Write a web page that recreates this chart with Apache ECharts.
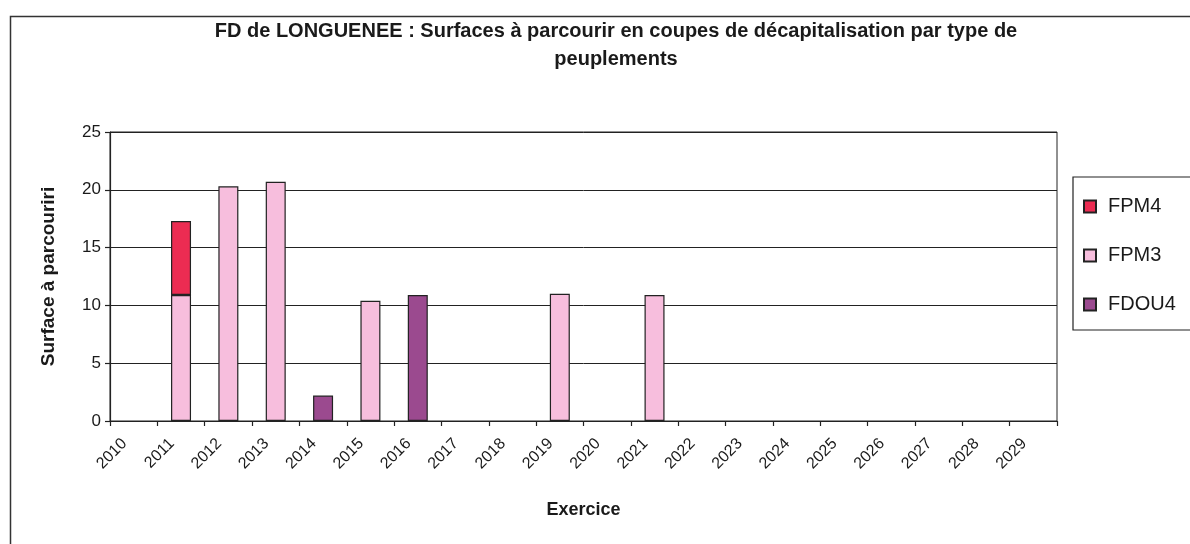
<!DOCTYPE html>
<html>
<head>
<meta charset="utf-8">
<title>FD de LONGUENEE</title>
<script src="https://cdn.jsdelivr.net/npm/echarts@6/dist/echarts.min.js"></script>
<style>
  html, body { margin: 0; padding: 0; background: #fff; }
  #chart { width: 1190px; height: 544px; }
</style>
</head>
<body>
<div id="chart"></div>
<script>
// Exercise years on the category axis
const years = ['2010', '2011', '2012', '2013', '2014', '2015', '2016', '2017', '2018', '2019',
               '2020', '2021', '2022', '2023', '2024', '2025', '2026', '2027', '2028', '2029'];

// Surfaces (ha) per stand type, one value per year (null = no cut)
const fdou4 = [null, null, null, null, 2.2, null, 10.9, null, null, null,
               null, null, null, null, null, null, null, null, null, null];
const fpm3  = [null, 10.9, 20.3, 20.7, null, 10.4, null, null, null, 11.0,
               null, 10.9, null, null, null, null, null, null, null, null];
const fpm4  = [null, 6.4, null, null, null, null, null, null, null, null,
               null, null, null, null, null, null, null, null, null, null];

const yTicks = { min: 0, max: 25, interval: 5 };

const FONT = 'Liberation Sans, Arial, sans-serif';
const INK = '#1a1a1a';

const chart = echarts.init(document.getElementById('chart'), null, { renderer: 'canvas' });

function barSeries(name, data, color) {
  return {
    name: name,
    type: 'bar',
    stack: 'surface',
    data: data,
    barWidth: 20,
    itemStyle: { color: color, borderColor: '#222', borderWidth: 1.2 },
    emphasis: { disabled: true }
  };
}

chart.setOption({
  animation: false,
  backgroundColor: '#fff',
  title: {
    text: 'FD de LONGUENEE : Surfaces à parcourir en coupes de décapitalisation par type de\npeuplements',
    left: 611,
    top: 12,
    textAlign: 'center',
    textStyle: { fontFamily: FONT, fontSize: 20, fontWeight: 'bold', color: INK, lineHeight: 28 }
  },
  legend: {
    orient: 'vertical',
    left: 1073,
    top: 177,
    data: ['FPM4', 'FPM3', 'FDOU4'],
    itemWidth: 12,
    itemHeight: 12,
    itemGap: 28,
    padding: [19, 40, 15, 10],
    borderColor: '#222',
    borderWidth: 1.2,
    icon: 'rect',
    selectedMode: false,
    textStyle: { fontFamily: FONT, fontSize: 20, color: INK, lineHeight: 21, padding: [0, 0, 0, 7] }
  },
  grid: {
    left: 110,
    right: 133,
    top: 132,
    bottom: 123,
    show: true,
    borderColor: '#222',
    borderWidth: 1,
    containLabel: false
  },
  xAxis: {
    type: 'category',
    data: years,
    boundaryGap: true,
    name: 'Exercice',
    nameLocation: 'middle',
    nameGap: 80,
    nameTextStyle: { fontFamily: FONT, fontSize: 18, fontWeight: 'bold', color: INK },
    axisLine: { lineStyle: { color: '#222', width: 1.2 } },
    axisTick: { show: true, alignWithLabel: false, length: 5, lineStyle: { color: '#222', width: 1.2 } },
    axisLabel: {
      rotate: 45,
      interval: 0,
      margin: 11,
      fontFamily: FONT,
      fontSize: 16,
      color: INK,
      padding: [0, 13, 0, 0]
    },
    splitLine: { show: false }
  },
  yAxis: {
    type: 'value',
    min: yTicks.min,
    max: yTicks.max,
    interval: yTicks.interval,
    name: 'Surface à parcouriri',
    nameLocation: 'middle',
    nameGap: 52,
    nameTextStyle: { fontFamily: FONT, fontSize: 19, fontWeight: 'bold', color: INK },
    axisLine: { show: true, lineStyle: { color: '#222', width: 1.2 } },
    axisTick: { show: true, length: 5, lineStyle: { color: '#222', width: 1.2 } },
    axisLabel: { fontFamily: FONT, fontSize: 17, color: INK, margin: 9 },
    splitLine: { show: true, lineStyle: { color: '#222', width: 1 } }
  },
  graphic: [
    {
      type: 'rect',
      silent: true,
      shape: { x: 10.5, y: 16.5, width: 1220, height: 560 },
      style: { fill: 'none', stroke: '#333', lineWidth: 1.5 }
    }
  ],
  series: [
    barSeries('FDOU4', fdou4, '#9b4a8f'),
    barSeries('FPM3', fpm3, '#f7bedd'),
    barSeries('FPM4', fpm4, '#ec2c52')
  ]
});
</script>
</body>
</html>
